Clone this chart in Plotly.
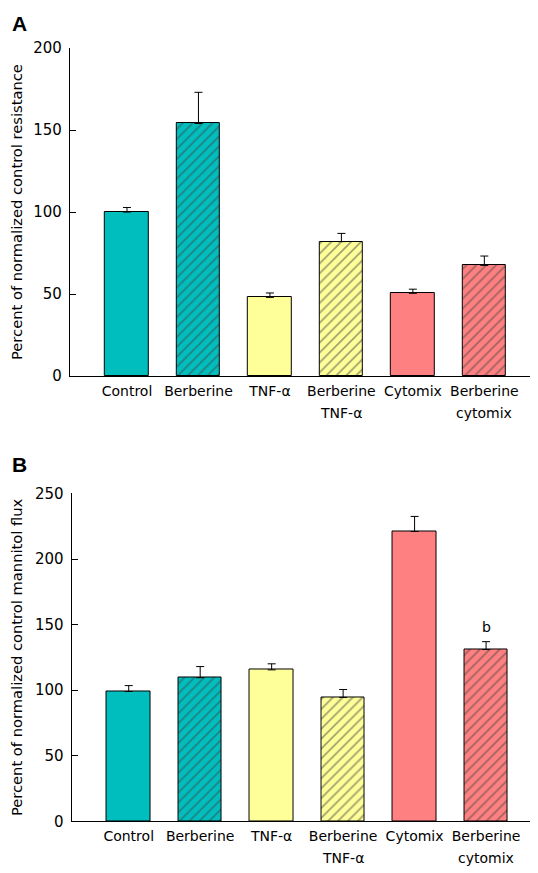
import plotly.graph_objects as go

# ---- data ----
categories_line1 = ["Control", "Berberine", "TNF-α", "Berberine", "Cytomix", "Berberine"]
categories_line2 = ["", "", "", "TNF-α", "", "cytomix"]
positions = [0, 1, 2, 3, 4, 5]

resistance_values = [100, 154, 48, 82, 50.5, 67.5]
resistance_errors = [2.8, 19, 2.7, 5, 2.5, 5.7]

flux_values = [99, 109.5, 115.5, 94.5, 221, 131]
flux_errors = [4.5, 8.5, 4.6, 6, 11.5, 6]
flux_marks = ["", "", "", "", "", "b"]

bar_colors = ["rgb(0,190,190)", "rgb(0,190,190)", "rgb(255,255,153)",
              "rgb(255,255,153)", "rgb(255,128,128)", "rgb(255,128,128)"]
hatched = [False, True, False, True, False, True]

yticks_A = [0, 50, 100, 150, 200]
yticks_B = [0, 50, 100, 150, 200, 250]

FONT = "DejaVu Sans"
W, H = 538, 873


# map target screen pixels to paper coordinates (calibrated on the renderer)
def px_x(t):
    return ((t - 9) / 0.987) / W


def px_y(t):
    return 1 - ((t - 16) / 0.979) / H


fig = go.Figure()


def add_bars(values, errors, xa, ya):
    fig.add_trace(go.Bar(
        x=positions, y=values, width=0.61,
        marker=dict(
            color=bar_colors,
            line=dict(color="black", width=1),
            pattern=dict(shape=["/" if h else "" for h in hatched],
                         fgcolor="black", bgcolor=bar_colors,
                         size=7, solidity=0.25, fillmode="overlay"),
        ),
        error_y=dict(type="data", array=errors, arrayminus=[0] * len(errors),
                     symmetric=False, color="black", thickness=1, width=4),
        xaxis=xa, yaxis=ya, showlegend=False, hoverinfo="skip",
    ))


add_bars(resistance_values, resistance_errors, "x", "y")
add_bars(flux_values, flux_errors, "x2", "y2")

xcommon = dict(range=[-0.8, 5.65], tickmode="array", tickvals=positions,
               ticktext=categories_line1, showline=True, linecolor="black",
               linewidth=1, ticks="", showgrid=False, zeroline=False,
               ticklabelstandoff=2,
               tickfont=dict(family=FONT, size=14, color="black"))
ycommon = dict(showline=True, linecolor="black", linewidth=1, ticks="inside",
               ticklen=6, tickcolor="black", showgrid=False, zeroline=False,
               tickfont=dict(family=FONT, size=15, color="black"),
               ticklabelstandoff=4)

fig.update_layout(
    width=W, height=H, autosize=False,
    margin=dict(l=0, r=0, t=0, b=0),
    paper_bgcolor="white", plot_bgcolor="white",
    bargap=0,
    xaxis=dict(domain=[px_x(70), px_x(525)], anchor="y", **xcommon),
    yaxis=dict(domain=[px_y(375), px_y(47)], anchor="x", range=[0, 200],
               tickvals=yticks_A,
               title=dict(text="Percent of normalized control resistance",
                          font=dict(family=FONT, size=14.7, color="black"),
                          standoff=9),
               **ycommon),
    xaxis2=dict(domain=[px_x(71.7), px_x(526.7)], anchor="y2", **xcommon),
    yaxis2=dict(domain=[px_y(820), px_y(492.3)], anchor="x2", range=[0, 250],
                tickvals=yticks_B,
                title=dict(text="Percent of normalized control mannitol flux",
                           font=dict(family=FONT, size=14.7, color="black"),
                           standoff=9),
                **ycommon),
)

annotations = []
# second lines of category labels
for pos, t in zip(positions, categories_line2):
    if t:
        annotations.append(dict(x=pos, y=px_y(412), xref="x", yref="paper",
                                text=t, showarrow=False, yanchor="middle",
                                font=dict(family=FONT, size=14, color="black")))
        annotations.append(dict(x=pos, y=px_y(857), xref="x2", yref="paper",
                                text=t, showarrow=False, yanchor="middle",
                                font=dict(family=FONT, size=14, color="black")))
# significance marks
for pos, v, e, m in zip(positions, flux_values, flux_errors, flux_marks):
    if m:
        annotations.append(dict(x=pos, y=v + e, xref="x2", yref="y2", text=m,
                                showarrow=False, yanchor="bottom", yshift=5,
                                font=dict(family=FONT, size=14, color="black")))
# panel letters
annotations.append(dict(x=px_x(11), y=px_y(22), xref="paper", yref="paper",
                        text="<b>A</b>", showarrow=False, xanchor="left",
                        yanchor="middle",
                        font=dict(family="Liberation Sans", size=21, color="black")))
annotations.append(dict(x=px_x(11), y=px_y(463), xref="paper", yref="paper",
                        text="<b>B</b>", showarrow=False, xanchor="left",
                        yanchor="middle",
                        font=dict(family="Liberation Sans", size=21, color="black")))
fig.update_layout(annotations=annotations)

fig.write_html("out.html")
